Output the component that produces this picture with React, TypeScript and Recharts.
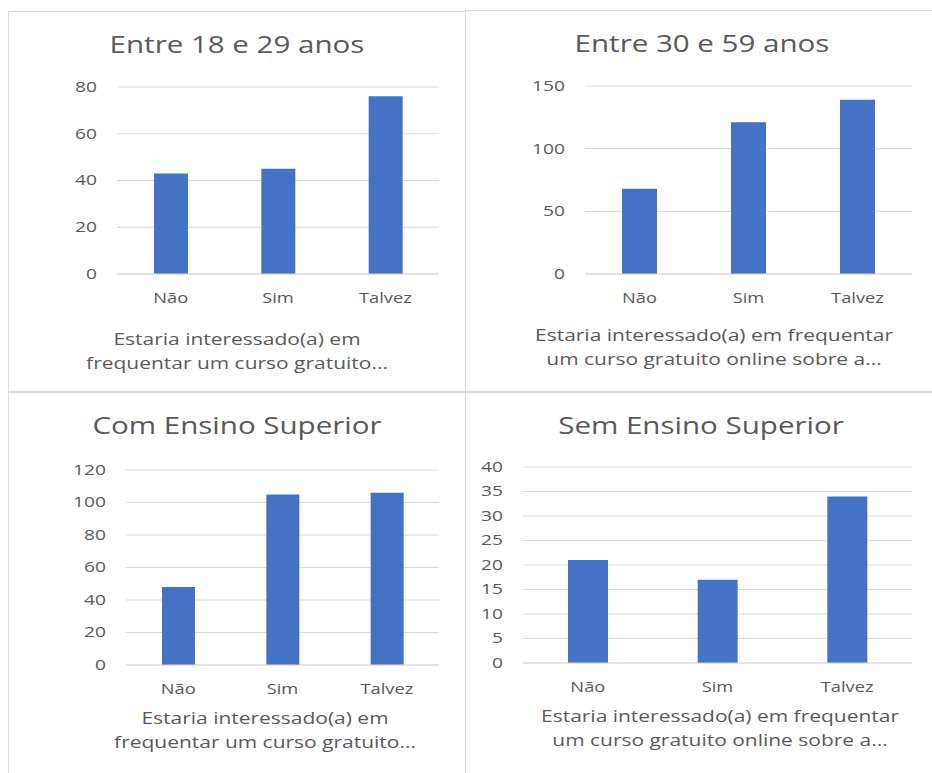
import { Bar, BarChart, CartesianGrid, XAxis, YAxis } from "recharts";

const categories = ["Não", "Sim", "Talvez"];

const ages18to29 = [43, 45, 76];
const ages30to59 = [68, 121, 139];
const withHigherEd = [48, 105, 106];
const withoutHigherEd = [21, 17, 34];

const ticks18to29 = [0, 20, 40, 60, 80];
const ticks30to59 = [0, 50, 100, 150];
const ticksWithHigherEd = [0, 20, 40, 60, 80, 100, 120];
const ticksWithoutHigherEd = [0, 5, 10, 15, 20, 25, 30, 35, 40];

const FONT = '"Open Sans", sans-serif';
const TEXT = "#595959";
const GRID = "#d9d9d9";
const BLUE = "#4472C4";

// the source picture is stretched sideways, so the text is too
const SX_TITLE = 1.23;
const SX_CAPTION = 1.31;
const SX_YTICK = 1.37;
const SX_XTICK = 1.22;

const YW = 70;
const MT = 10;
const MR = 10;
const XH = 40;

type Box = { left: number; right: number; top: number; bottom: number };

function WideTick(props: any) {
  const { x, y, payload, anchor, dy, sx, size } = props;
  return (
    <g transform={`translate(${x},${y}) scale(${sx},1)`}>
      <text x={0} y={0} dy={dy} textAnchor={anchor} fontSize={size} fill={TEXT} fontFamily={FONT}>
        {payload.value}
      </text>
    </g>
  );
}

function MiniBar({
  values,
  ticks,
  plot,
  barSize,
}: {
  values: number[];
  ticks: number[];
  plot: Box;
  barSize: number;
}) {
  const data = categories.map((c, i) => ({ name: c, value: values[i] }));
  const w = plot.right - plot.left + YW + MR;
  const h = plot.bottom - plot.top + MT + XH;
  return (
    <div style={{ position: "absolute", left: plot.left - YW, top: plot.top - MT }}>
      <BarChart width={w} height={h} data={data} margin={{ top: MT, right: MR, left: 0, bottom: 0 }}>
        <CartesianGrid vertical={false} stroke={GRID} />
        <XAxis
          dataKey="name"
          height={XH}
          tickLine={false}
          tickSize={0}
          tickMargin={18}
          axisLine={{ stroke: GRID }}
          tick={<WideTick anchor="middle" dy="0.71em" sx={SX_XTICK} size={15} />}
        />
        <YAxis
          width={YW}
          domain={[ticks[0], ticks[ticks.length - 1]]}
          ticks={ticks}
          interval={0}
          tickLine={false}
          tickSize={0}
          tickMargin={20}
          axisLine={false}
          tick={<WideTick anchor="end" dy="0.355em" sx={SX_YTICK} size={14} />}
        />
        <Bar dataKey="value" fill={BLUE} barSize={barSize} isAnimationActive={false} />
      </BarChart>
    </div>
  );
}

function Title({ text, cx, top }: { text: string; cx: number; top: number }) {
  return (
    <div
      style={{
        position: "absolute",
        left: cx - 200,
        width: 400,
        top,
        textAlign: "center",
        fontFamily: FONT,
        fontSize: 24,
        lineHeight: "24px",
        color: TEXT,
        whiteSpace: "nowrap",
        transform: `scaleX(${SX_TITLE})`,
      }}
    >
      {text}
    </div>
  );
}

function Caption({ lines, cx, top }: { lines: string[]; cx: number; top: number }) {
  return (
    <div
      style={{
        position: "absolute",
        left: cx - 200,
        width: 400,
        top,
        textAlign: "center",
        fontFamily: FONT,
        fontSize: 16,
        lineHeight: "24px",
        color: TEXT,
        whiteSpace: "nowrap",
        transform: `scaleX(${SX_CAPTION})`,
      }}
    >
      {lines.map((l) => (
        <div key={l}>{l}</div>
      ))}
    </div>
  );
}

function Line({ x, y, w, h }: { x: number; y: number; w: number; h: number }) {
  return <div style={{ position: "absolute", left: x, top: y, width: w, height: h, background: GRID }} />;
}

export default function App() {
  return (
    <div
      style={{
        position: "absolute",
        left: 0,
        top: 0,
        width: 932,
        height: 773,
        background: "#fff",
        overflow: "hidden",
      }}
    >
      <Line x={8} y={11} w={458} h={1} />
      <Line x={466} y={10} w={466} h={1} />
      <Line x={8} y={391} w={924} h={2} />
      <Line x={8} y={11} w={1} h={762} />
      <Line x={465} y={10} w={1} h={763} />

      <Title text="Entre 18 e 29 anos" cx={237} top={32} />
      <MiniBar values={ages18to29} ticks={ticks18to29} plot={{ left: 117, right: 439, top: 87, bottom: 274 }} barSize={34} />
      <Caption lines={["Estaria interessado(a) em", "frequentar um curso gratuito..."]} cx={237} top={327} />

      <Title text="Entre 30 e 59 anos" cx={702} top={31} />
      <MiniBar values={ages30to59} ticks={ticks30to59} plot={{ left: 585, right: 912, top: 86, bottom: 274 }} barSize={35} />
      <Caption lines={["Estaria interessado(a) em frequentar", "um curso gratuito online sobre a..."]} cx={714} top={323} />

      <Title text="Com Ensino Superior" cx={237} top={413} />
      <MiniBar values={withHigherEd} ticks={ticksWithHigherEd} plot={{ left: 126, right: 439, top: 470, bottom: 665 }} barSize={33} />
      <Caption lines={["Estaria interessado(a) em", "frequentar um curso gratuito..."]} cx={265} top={706} />

      <Title text="Sem Ensino Superior" cx={701} top={413} />
      <MiniBar values={withoutHigherEd} ticks={ticksWithoutHigherEd} plot={{ left: 523, right: 912, top: 467, bottom: 663 }} barSize={40} />
      <Caption lines={["Estaria interessado(a) em frequentar", "um curso gratuito online sobre a..."]} cx={720} top={704} />
    </div>
  );
}
